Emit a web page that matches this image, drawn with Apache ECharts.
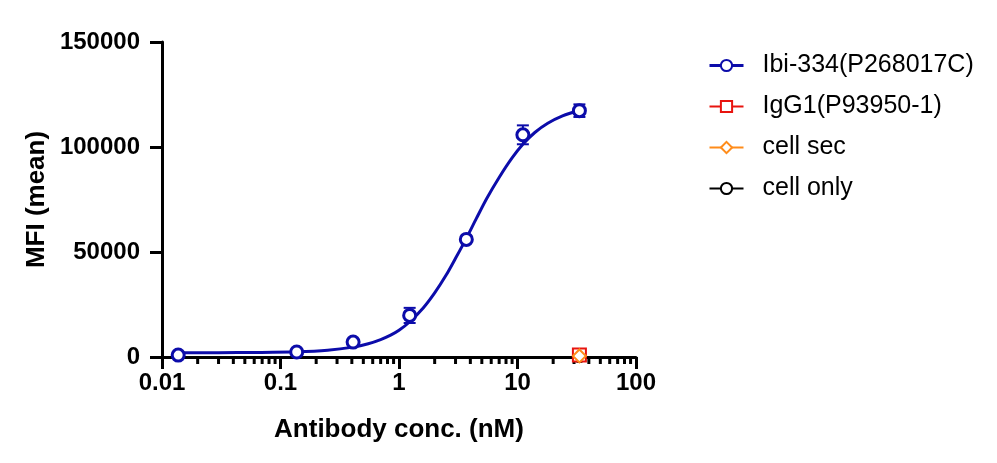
<!DOCTYPE html>
<html>
<head>
<meta charset="utf-8">
<script src="https://cdn.jsdelivr.net/npm/echarts@6/dist/echarts.min.js"></script>
<style>
  html, body { margin: 0; padding: 0; background: #fff; }
  #chart { width: 997px; height: 463px; }
</style>
</head>
<body>
<div id="chart"></div>
<script>
// measured points, Ibi-334
const concs = [0.0137, 0.137, 0.41, 1.23, 3.7, 11.1, 33.3];
const ibiMean = [900, 2400, 7100, 19800, 56000, 105800, 117300];
const ibiErr = [300, 400, 800, 3600, 1200, 4500, 3000];

// fitted curve
const curveConc = [0.0137, 0.03, 0.0625, 0.137, 0.25, 0.41, 0.55, 0.7, 0.85, 1.0, 1.24, 1.6, 2.0, 2.5, 3.0, 3.7, 4.5, 5.5, 7.0, 9.0, 11.1, 14, 18, 24, 33.3];
const curveMFI = [2000, 2050, 2150, 2450, 3200, 4700, 6300, 8300, 10400, 12700, 16900, 23300, 30500, 39000, 47000, 56500, 66000, 75500, 85500, 94800, 101300, 106900, 111300, 114800, 117500];

// controls (single concentration)
const ctrlConc = [33.3];
const igg1 = [1000];
const cellSec = [500];
const cellOnly = [200];

const xTickLabels = ['0.01', '0.1', '1', '10', '100'];
const xTickValues = [0.01, 0.1, 1, 10, 100];
const minorTicks = [0.02, 0.03, 0.04, 0.05, 0.06, 0.07, 0.08, 0.09,
  0.2, 0.3, 0.4, 0.5, 0.6, 0.7, 0.8, 0.9,
  2, 3, 4, 5, 6, 7, 8, 9,
  20, 30, 40, 50, 60, 70, 80, 90];

const BLUE = '#0c0caa';
const RED = '#e8140f';
const ORANGE = '#ff8c1a';
const FONT = 'Liberation Sans, Arial, sans-serif';

const chart = echarts.init(document.getElementById('chart'));

chart.setOption({
  animation: false,
  grid: { left: 162, right: 361, top: 42, bottom: 106 },
  legend: {
    orient: 'vertical',
    left: 708,
    top: 53,
    padding: 0,
    itemWidth: 34,
    itemHeight: 14,
    itemGap: 16,
    data: [
      { name: 'Ibi-334(P268017C)', lineStyle: { width: 3 } },
      { name: 'IgG1(P93950-1)', lineStyle: { width: 2 } },
      { name: 'cell sec', lineStyle: { width: 2 } },
      { name: 'cell only', lineStyle: { width: 2 } }
    ],
    textStyle: { fontFamily: FONT, fontSize: 25, color: '#000', lineHeight: 25, padding: [0, 0, 0, 14] }
  },
  xAxis: {
    type: 'log',
    logBase: 10,
    min: 0.01,
    max: 100,
    name: 'Antibody conc. (nM)',
    nameLocation: 'middle',
    nameGap: 60,
    nameTextStyle: { fontFamily: FONT, fontSize: 26, fontWeight: 'bold', color: '#000' },
    axisLine: { lineStyle: { color: '#000', width: 3 } },
    axisTick: { length: 12, lineStyle: { color: '#000', width: 3 } },
    axisLabel: {
      fontFamily: FONT, fontSize: 24, fontWeight: 'bold', color: '#000', margin: 14,
      formatter: v => {
        const i = xTickValues.findIndex(t => Math.abs(Math.log10(t) - Math.log10(v)) < 1e-6);
        return i >= 0 ? xTickLabels[i] : '';
      }
    },
    splitLine: { show: false }
  },
  yAxis: {
    type: 'value',
    min: 0,
    max: 150000,
    interval: 50000,
    name: 'MFI (mean)',
    nameLocation: 'middle',
    nameGap: 112,
    nameTextStyle: { fontFamily: FONT, fontSize: 26, fontWeight: 'bold', color: '#000' },
    axisLine: { show: true, lineStyle: { color: '#000', width: 3 } },
    axisTick: { show: true, length: 12, lineStyle: { color: '#000', width: 3 } },
    axisLabel: {
      fontFamily: FONT, fontSize: 24, fontWeight: 'bold', color: '#000', margin: 22,
      formatter: v => String(v)
    },
    splitLine: { show: false }
  },
  series: [
    {
      // log-spaced minor ticks on the x axis
      type: 'custom',
      silent: true,
      clip: false,
      z: 1,
      data: minorTicks.map(v => [v, 0]),
      renderItem: (params, api) => {
        const p = api.coord([api.value(0), 0]);
        return {
          type: 'line',
          shape: { x1: p[0], y1: p[1], x2: p[0], y2: p[1] + 7 },
          style: { stroke: '#000', lineWidth: 3 }
        };
      }
    },
    {
      name: 'Ibi-334(P268017C)',
      type: 'line',
      smooth: 0.3,
      symbol: 'emptyCircle',
      showSymbol: false,
      symbolSize: 9,
      color: BLUE,
      lineStyle: { color: BLUE, width: 3 },
      itemStyle: { color: BLUE, borderWidth: 2.5 },
      data: curveConc.map((c, i) => [c, curveMFI[i]]),
      z: 3
    },
    {
      // error bars
      type: 'custom',
      silent: true,
      z: 4,
      data: concs.map((c, i) => [c, ibiMean[i] - ibiErr[i], ibiMean[i] + ibiErr[i]]),
      renderItem: (params, api) => {
        const lo = api.coord([api.value(0), api.value(1)]);
        const hi = api.coord([api.value(0), api.value(2)]);
        const w = 6;
        return {
          type: 'group',
          children: [
            { type: 'line', shape: { x1: lo[0], y1: lo[1], x2: hi[0], y2: hi[1] }, style: { stroke: BLUE, lineWidth: 2 } },
            { type: 'line', shape: { x1: hi[0] - w, y1: hi[1], x2: hi[0] + w, y2: hi[1] }, style: { stroke: BLUE, lineWidth: 2 } },
            { type: 'line', shape: { x1: lo[0] - w, y1: lo[1], x2: lo[0] + w, y2: lo[1] }, style: { stroke: BLUE, lineWidth: 2 } }
          ]
        };
      }
    },
    {
      name: 'Ibi-334(P268017C)',
      type: 'scatter',
      symbol: 'circle',
      symbolSize: 12,
      itemStyle: { color: '#fff', borderColor: BLUE, borderWidth: 3, opacity: 1 },
      data: concs.map((c, i) => [c, ibiMean[i]]),
      z: 5
    },
    {
      name: 'cell only',
      type: 'line',
      symbol: 'emptyCircle',
      symbolSize: 11,
      color: '#000',
      lineStyle: { color: '#000', width: 2 },
      itemStyle: { color: '#000', borderWidth: 2.5 },
      data: ctrlConc.map((c, i) => [c, cellOnly[i]]),
      z: 5
    },
    {
      name: 'IgG1(P93950-1)',
      type: 'line',
      symbol: 'emptyRect',
      symbolSize: 13,
      color: RED,
      lineStyle: { color: RED, width: 2 },
      itemStyle: { color: RED, borderWidth: 3 },
      data: ctrlConc.map((c, i) => [c, igg1[i]]),
      z: 6
    },
    {
      name: 'cell sec',
      type: 'line',
      symbol: 'emptyDiamond',
      symbolSize: 13,
      color: ORANGE,
      lineStyle: { color: ORANGE, width: 2 },
      itemStyle: { color: ORANGE, borderWidth: 2.5 },
      data: ctrlConc.map((c, i) => [c, cellSec[i]]),
      z: 7
    }
  ]
});
</script>
</body>
</html>
